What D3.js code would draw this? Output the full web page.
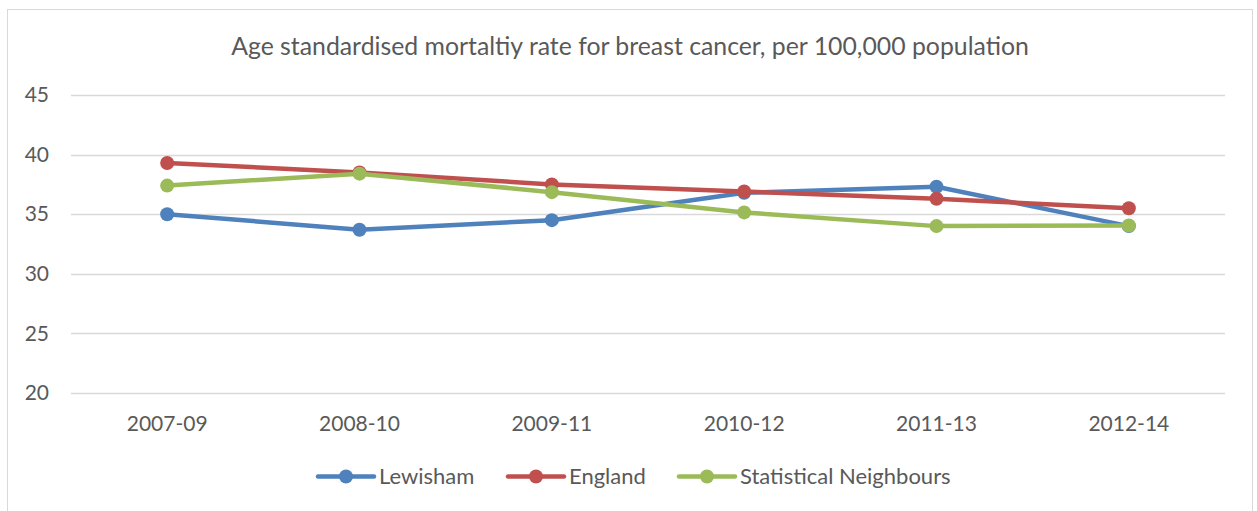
<!DOCTYPE html>
<html>
<head>
<meta charset="utf-8">
<script src="https://cdn.jsdelivr.net/npm/d3@7"></script>
<style>
  body { margin: 0; background: #fff; }
  text { font-family: Lato, "Open Sans", sans-serif; fill: #595959; }
</style>
</head>
<body>
<div id="chart"></div>
<script>
var width = 1257;
var height = 511;

var periods = ["2007-09", "2008-10", "2009-11", "2010-12", "2011-13", "2012-14"];
var lewisham = [35.0, 33.7, 34.5, 36.8, 37.3, 34.0];
var england = [39.3, 38.5, 37.5, 36.9, 36.3, 35.5];
var neighbours = [37.4, 38.4, 36.85, 35.15, 34.0, 34.05];
var seriesNames = ["Lewisham", "England", "Statistical Neighbours"];
var seriesColors = ["#4f81bd", "#c0504d", "#9bbb59"];
var yTicks = [20, 25, 30, 35, 40, 45];

var series = [lewisham, england, neighbours];

var margin = {top: 95, right: 32, bottom: 118, left: 71};

var svg = d3.select("#chart")
        .append("svg")
        .attr("width", width)
        .attr("height", height);

// outer chart frame
svg.append("rect")
        .attr("x", 7.5)
        .attr("y", 9.5)
        .attr("width", 1245)
        .attr("height", 520)
        .attr("fill", "none")
        .attr("stroke", "#d9d9d9")
        .attr("stroke-width", 1);

svg.append("text")
        .attr("x", 630)
        .attr("y", 55)
        .attr("text-anchor", "middle")
        .style("font-size", "24.8px")
        .text("Age standardised mortaltiy rate for breast cancer, per 100,000 population");

var x = d3.scaleBand()
        .domain(periods)
        .range([margin.left, width - margin.right]);

var y = d3.scaleLinear()
        .domain([20, 45])
        .range([height - margin.bottom, margin.top]);

// gridlines
svg.append("g")
        .attr("class", "grid")
        .selectAll("line")
        .data(yTicks)
        .enter().append("line")
        .attr("x1", margin.left)
        .attr("x2", width - margin.right)
        .attr("y1", function (d) { return Math.round(y(d)) + 0.5; })
        .attr("y2", function (d) { return Math.round(y(d)) + 0.5; })
        .attr("stroke", "#d9d9d9")
        .attr("stroke-width", 1.5);

var yAxis = svg.append("g")
        .attr("transform", "translate(" + (margin.left - 22) + ",0)")
        .call(d3.axisLeft(y).tickValues(yTicks).tickSize(0).tickPadding(0));
yAxis.select(".domain").remove();
yAxis.selectAll("text")
        .style("font-size", "21px")
        .style("fill", "#595959")
        .style("font-family", "Lato, sans-serif");

var xAxis = svg.append("g")
        .attr("transform", "translate(0," + (height - margin.bottom) + ")")
        .call(d3.axisBottom(x).tickSize(0).tickPadding(23));
xAxis.select(".domain").remove();
xAxis.selectAll("text")
        .style("font-size", "21px")
        .style("fill", "#595959")
        .style("font-family", "Lato, sans-serif");

var line = d3.line()
        .x(function (d, i) { return x(periods[i]) + x.bandwidth() / 2; })
        .y(function (d) { return y(d); });

series.forEach(function (values, s) {
    var g = svg.append("g").attr("class", "series");
    g.append("path")
            .datum(values)
            .attr("d", line)
            .attr("fill", "none")
            .attr("stroke", seriesColors[s])
            .attr("stroke-width", 4.5)
            .attr("stroke-linejoin", "round")
            .attr("stroke-linecap", "round");
    g.selectAll("circle")
            .data(values)
            .enter().append("circle")
            .attr("cx", function (d, i) { return x(periods[i]) + x.bandwidth() / 2; })
            .attr("cy", function (d) { return y(d); })
            .attr("r", 7)
            .attr("fill", seriesColors[s]);
});

// legend
var legendX = [318, 508, 679];
var legend = svg.selectAll(".legend")
        .data(seriesNames)
        .enter().append("g")
        .attr("class", "legend")
        .attr("transform", function (d, i) { return "translate(" + legendX[i] + ",476.5)"; });

legend.append("line")
        .attr("x1", 0)
        .attr("x2", 56)
        .attr("stroke", function (d, i) { return seriesColors[i]; })
        .attr("stroke-width", 4.5)
        .attr("stroke-linecap", "round");

legend.append("circle")
        .attr("cx", 28)
        .attr("r", 7)
        .attr("fill", function (d, i) { return seriesColors[i]; });

legend.append("text")
        .attr("x", 61)
        .attr("y", 7.5)
        .style("font-size", "22px")
        .text(function (d) { return d; });
</script>
</body>
</html>
